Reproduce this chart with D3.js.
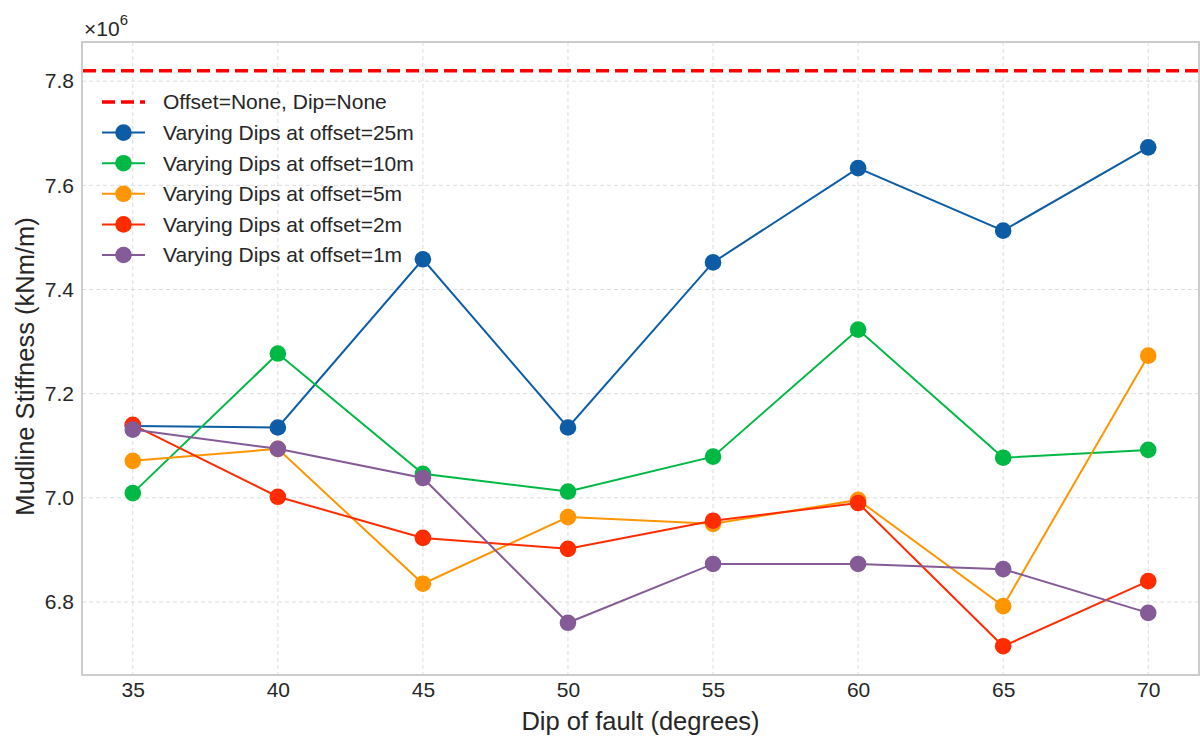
<!DOCTYPE html>
<html>
<head>
<meta charset="utf-8">
<script src="https://cdn.jsdelivr.net/npm/d3@7"></script>
<style>
  body { margin: 0; background: #fff; }
  svg { font-family: "Liberation Sans", Arial, sans-serif; }
</style>
</head>
<body>
<svg id="chart" width="1200" height="738"></svg>
<script>
"use strict";

// dips on the x axis
const dips = [35, 40, 45, 50, 55, 60, 65, 70];

// stiffness values (x 1e6 kNm/m)
const offset25 = [7.138, 7.135, 7.458, 7.135, 7.452, 7.633, 7.513, 7.673];
const offset10 = [7.009, 7.277, 7.046, 7.012, 7.079, 7.323, 7.077, 7.092];
const offset5  = [7.071, 7.094, 6.835, 6.963, 6.950, 6.996, 6.792, 7.273];
const offset2  = [7.140, 7.002, 6.923, 6.902, 6.956, 6.990, 6.715, 6.840];
const offset1  = [7.131, 7.094, 7.038, 6.760, 6.873, 6.873, 6.863, 6.779];
const baseline = 7.82;

const yTicks = [6.8, 7.0, 7.2, 7.4, 7.6, 7.8];

const series = [
    { name: "Varying Dips at offset=25m", values: offset25, color: "#0C5DA5" },
    { name: "Varying Dips at offset=10m", values: offset10, color: "#00B945" },
    { name: "Varying Dips at offset=5m",  values: offset5,  color: "#FF9500" },
    { name: "Varying Dips at offset=2m",  values: offset2,  color: "#FF2C00" },
    { name: "Varying Dips at offset=1m",  values: offset1,  color: "#845B97" }
];

const svg = d3.select("#chart");
const margin = { left: 82, right: 1, top: 42, bottom: 63 };
const width = +svg.attr("width");
const height = +svg.attr("height");

// matplotlib-style 5% padding
const allVals = series.flatMap(s => s.values).concat([baseline]);
const yMin = d3.min(allVals), yMax = d3.max(allVals);
const yPad = (yMax - yMin) * 0.05;
const xPad = (d3.max(dips) - d3.min(dips)) * 0.05;

const x = d3.scaleLinear()
    .domain([d3.min(dips) - xPad, d3.max(dips) + xPad])
    .range([margin.left, width - margin.right]);
const y = d3.scaleLinear()
    .domain([yMin - yPad, yMax + yPad])
    .range([height - margin.bottom, margin.top]);

const plotW = width - margin.right - margin.left;
const plotH = height - margin.bottom - margin.top;
const textCol = "#262626";

// grid
const grid = svg.append("g");
grid.selectAll(".vg").data(dips).enter().append("line")
    .attr("x1", d => x(d)).attr("x2", d => x(d))
    .attr("y1", margin.top).attr("y2", height - margin.bottom)
    .attr("stroke", "#dcdcdc").attr("stroke-width", 1)
    .attr("stroke-dasharray", "4,3");
grid.selectAll(".hg").data(yTicks).enter().append("line")
    .attr("x1", margin.left).attr("x2", width - margin.right)
    .attr("y1", d => y(d)).attr("y2", d => y(d))
    .attr("stroke", "#dcdcdc").attr("stroke-width", 1)
    .attr("stroke-dasharray", "4,3");

// axes
const xAxis = svg.append("g")
    .attr("transform", `translate(0,${height - margin.bottom})`)
    .call(d3.axisBottom(x).tickValues(dips).tickSize(0).tickPadding(7));
const yAxis = svg.append("g")
    .attr("transform", `translate(${margin.left},0)`)
    .call(d3.axisLeft(y).tickValues(yTicks).tickSize(0).tickPadding(8)
        .tickFormat(d3.format(".1f")));
[xAxis, yAxis].forEach(a => {
    a.select(".domain").remove();
    a.selectAll("text")
        .attr("font-size", 21)
        .attr("font-family", "Liberation Sans, Arial, sans-serif")
        .attr("fill", textCol);
});

// frame
svg.append("rect")
    .attr("x", margin.left).attr("y", margin.top)
    .attr("width", plotW).attr("height", plotH)
    .attr("fill", "none").attr("stroke", "#cccccc").attr("stroke-width", 2);

// reference line
svg.append("line")
    .attr("x1", margin.left + 1).attr("x2", width - margin.right - 1)
    .attr("y1", y(baseline)).attr("y2", y(baseline))
    .attr("stroke", "#ff0000").attr("stroke-width", 3.5)
    .attr("stroke-dasharray", "13,6");

// series
const line = d3.line()
    .x((d, i) => x(dips[i]))
    .y(d => y(d));

series.forEach(s => {
    const g = svg.append("g");
    g.append("path")
        .attr("d", line(s.values))
        .attr("fill", "none")
        .attr("stroke", s.color)
        .attr("stroke-width", 2);
    g.selectAll("circle").data(s.values).enter().append("circle")
        .attr("cx", (d, i) => x(dips[i]))
        .attr("cy", d => y(d))
        .attr("r", 8.3)
        .attr("fill", s.color);
});

// legend
const legend = svg.append("g").attr("transform", "translate(102,102)");
const rowH = 30.6;
legend.append("line")
    .attr("x1", 0).attr("x2", 43).attr("y1", 0).attr("y2", 0)
    .attr("stroke", "#ff0000").attr("stroke-width", 3.5)
    .attr("stroke-dasharray", "13,6");
legend.append("text")
    .attr("x", 61).attr("y", 0).attr("dy", "0.35em")
    .attr("font-size", 21).attr("fill", textCol)
    .text("Offset=None, Dip=None");
series.forEach((s, i) => {
    const ry = (i + 1) * rowH;
    legend.append("line")
        .attr("x1", 0).attr("x2", 43).attr("y1", ry).attr("y2", ry)
        .attr("stroke", s.color).attr("stroke-width", 2);
    legend.append("circle")
        .attr("cx", 21.5).attr("cy", ry).attr("r", 8.3)
        .attr("fill", s.color);
    legend.append("text")
        .attr("x", 61).attr("y", ry).attr("dy", "0.35em")
        .attr("font-size", 21).attr("fill", textCol)
        .text(s.name);
});

// offset label
const off = svg.append("text")
    .attr("x", 84).attr("y", 36)
    .attr("font-size", 21).attr("fill", textCol);
off.append("tspan").text("\u00d710");
off.append("tspan").attr("dy", -11).attr("font-size", 15).text("6");

// axis titles
svg.append("text")
    .attr("x", margin.left + plotW / 2).attr("y", 730)
    .attr("text-anchor", "middle")
    .attr("font-size", 25.5).attr("fill", textCol)
    .text("Dip of fault (degrees)");
svg.append("text")
    .attr("transform", `translate(34,${margin.top + plotH / 2 + 8}) rotate(-90)`)
    .attr("text-anchor", "middle")
    .attr("font-size", 25.5).attr("fill", textCol)
    .text("Mudline Stiffness (kNm/m)");
</script>
</body>
</html>
